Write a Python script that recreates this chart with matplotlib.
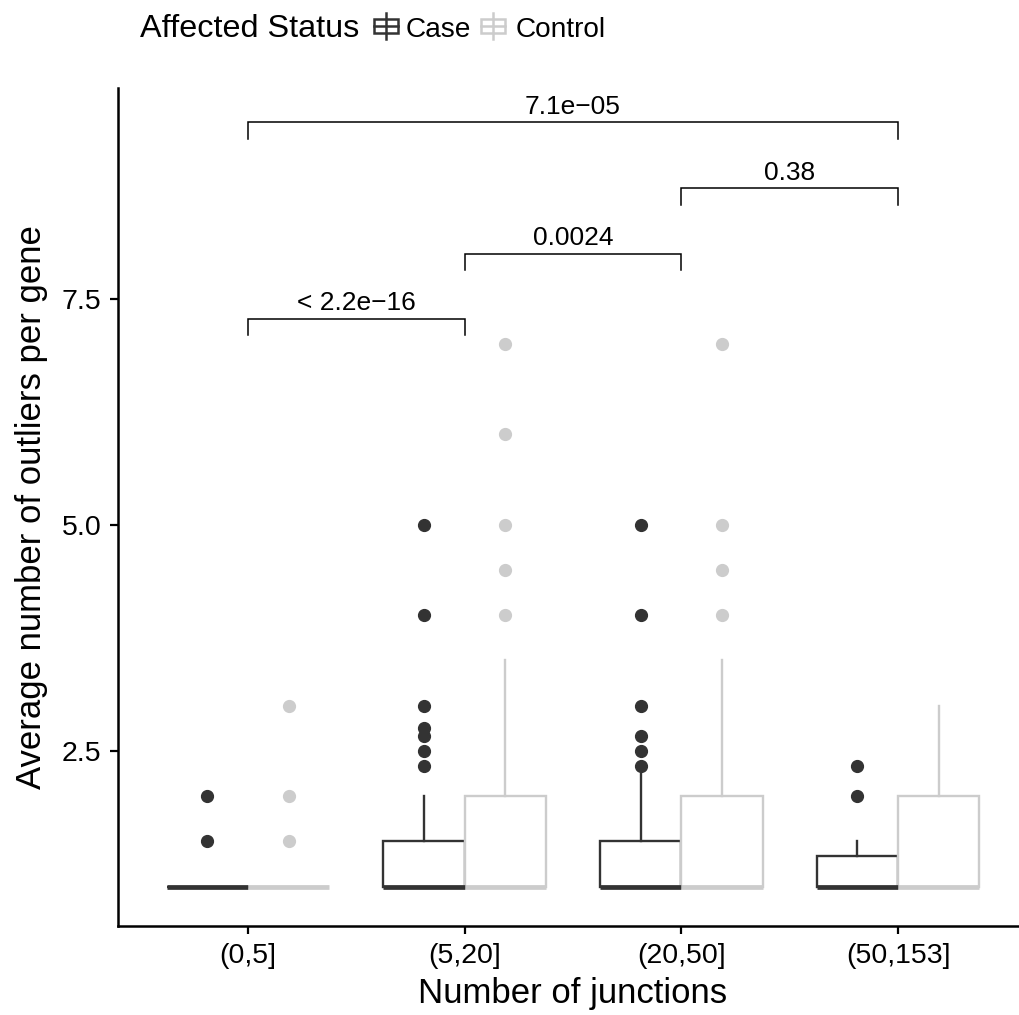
import matplotlib
matplotlib.use("Agg")
import matplotlib.pyplot as plt
from matplotlib.patches import Rectangle
from matplotlib.lines import Line2D

plt.rcParams["font.family"] = ["Liberation Sans", "DejaVu Sans"]

bins = ["(0,5]", "(5,20]", "(20,50]", "(50,153]"]
groups = ["Case", "Control"]
colors = {"Case": "#333333", "Control": "#cccccc"}

# box summaries per bin: q1, median, q3, lower whisker, upper whisker
case_q1 = [1, 1, 1, 1]
case_med = [1, 1, 1, 1]
case_q3 = [1, 1.5, 1.5, 1.333]
case_lo = [1, 1, 1, 1]
case_hi = [1, 2, 2.25, 1.5]
case_out = [
    [1.5, 2],
    [2.333, 2.5, 2.667, 2.75, 3, 4, 5],
    [2.333, 2.5, 2.667, 3, 4, 5],
    [2, 2.333],
]

ctrl_q1 = [1, 1, 1, 1]
ctrl_med = [1, 1, 1, 1]
ctrl_q3 = [1, 2, 2, 2]
ctrl_lo = [1, 1, 1, 1]
ctrl_hi = [1, 3.5, 3.5, 3]
ctrl_out = [
    [1.5, 2, 3],
    [4, 4.5, 5, 6, 7],
    [4, 4.5, 5, 7],
    [],
]

# pairwise comparisons: (bin a, bin b, bracket height, label)
cmp_a = [1, 2, 3, 1]
cmp_b = [2, 3, 4, 4]
cmp_y = [7.28, 8.0, 8.72, 9.45]
cmp_lab = ["< 2.2e\u221216", "0.0024", "0.38", "7.1e\u221205"]


def stats(q1, med, q3, lo, hi, out):
    return [dict(q1=a, med=b, q3=c, whislo=d, whishi=e, fliers=f)
            for a, b, c, d, e, f in zip(q1, med, q3, lo, hi, out)]


W, H = 1020, 1015
fig = plt.figure(figsize=(W / 100, H / 100), dpi=100)
ax = fig.add_axes([118 / W, 1 - 926 / H, (1028 - 118) / W, (926 - 88) / H])

dodge = 0.1875
bw = 0.375
series = {
    "Case": stats(case_q1, case_med, case_q3, case_lo, case_hi, case_out),
    "Control": stats(ctrl_q1, ctrl_med, ctrl_q3, ctrl_lo, ctrl_hi, ctrl_out),
}
for k, g in enumerate(groups):
    c = colors[g]
    off = -dodge if k == 0 else dodge
    pos = [i + 1 + off for i in range(len(bins))]
    ax.bxp(series[g], positions=pos, widths=bw, showcaps=False,
           patch_artist=True, manage_ticks=False,
           boxprops=dict(facecolor="white", edgecolor=c, linewidth=1.7),
           whiskerprops=dict(color=c, linewidth=1.7),
           medianprops=dict(color=c, linewidth=3.4, solid_capstyle="butt"),
           flierprops=dict(marker="o", markerfacecolor=c, markeredgecolor=c,
                           markersize=8.5, linestyle="none"))

# significance brackets
drop = 0.18
for a, b, y, lab in zip(cmp_a, cmp_b, cmp_y, cmp_lab):
    ax.plot([a, a, b, b], [y - drop, y, y, y - drop], color="black", lw=1.1,
            solid_joinstyle="miter")
    ax.text((a + b) / 2, y + 0.09, lab, ha="center", va="baseline", fontsize=19)

ax.set_xlim(0.4, 4.6)
ax.set_ylim(0.564, 9.83)
ax.set_xticks(range(1, len(bins) + 1))
ax.set_xticklabels(bins)
ax.set_yticks([2.5, 5.0, 7.5])
ax.set_yticklabels(["2.5", "5.0", "7.5"])
ax.tick_params(labelsize=20.5, length=6, width=1.6, colors="black", pad=6)
for s in ["top", "right"]:
    ax.spines[s].set_visible(False)
for s in ["left", "bottom"]:
    ax.spines[s].set_linewidth(1.8)
ax.set_xlabel("Number of junctions", fontsize=25, labelpad=6)
ax.set_ylabel("Average number of outliers per gene", fontsize=25, labelpad=10)


# legend along the top
def px(x, y):
    return x / W, 1 - y / H


def glyph(x0, color):
    tr = fig.transFigure
    x, y = px(x0, 33)
    w, h = 24 / W, 14 / H
    fig.add_artist(Rectangle((x, y), w, h, transform=tr, fill=False,
                             edgecolor=color, lw=1.8))
    xm = x + w / 2
    fig.add_artist(Line2D([xm, xm], [px(0, 39)[1], px(0, 13)[1]],
                          transform=tr, color=color, lw=1.8))
    fig.add_artist(Line2D([x, x + w], [px(0, 26)[1]] * 2,
                          transform=tr, color=color, lw=1.8))


fig.text(*px(140, 37), "Affected Status", fontsize=23.3, va="baseline")
glyph(374, colors["Case"])
fig.text(*px(406, 37), "Case", fontsize=20.2, va="baseline")
glyph(481, colors["Control"])
fig.text(*px(516, 37), "Control", fontsize=20.2, va="baseline")

fig.savefig("out.png", dpi=100)
